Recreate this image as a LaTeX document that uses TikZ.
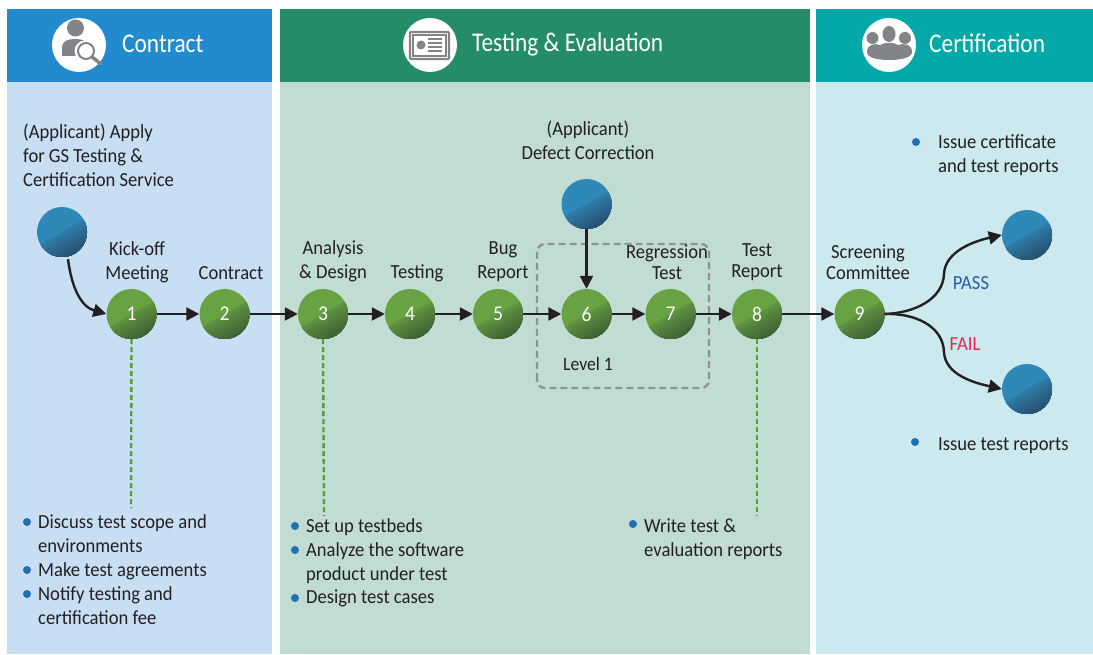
\documentclass[tikz,border=0pt]{standalone}
\usepackage{fontspec}
\setmainfont[FakeStretch=0.93]{Carlito}
\newfontfamily\headfont[FakeStretch=0.865]{Carlito}
\usetikzlibrary{arrows.meta,calc}
\definecolor{hblue}{HTML}{228BCE}
\definecolor{bblue}{HTML}{C8DFF3}
\definecolor{hgreen}{HTML}{258C68}
\definecolor{bgreen}{HTML}{C1DDD3}
\definecolor{hteal}{HTML}{05A8A8}
\definecolor{bteal}{HTML}{CBE9EF}
\definecolor{ink}{HTML}{231F20}
\definecolor{icon}{HTML}{838487}
\definecolor{gtop}{HTML}{67A243}
\definecolor{gmid}{HTML}{5F9440}
\definecolor{gdark}{HTML}{3F5F35}
\definecolor{otop}{HTML}{2E89B8}
\definecolor{omid}{HTML}{2F7DA8}
\definecolor{odark}{HTML}{264F70}
\definecolor{dash}{HTML}{5E9A36}
\definecolor{levelgray}{HTML}{8E9294}
\definecolor{bullet}{HTML}{1F6FB2}
\definecolor{passc}{HTML}{2A5CA8}
\definecolor{failc}{HTML}{E8264F}
\tikzset{
  orb/.style n args={3}{circle,minimum size=50pt,inner sep=0pt,fill=#1,text=white,
    font=\fontsize{21}{24}\selectfont,
    path picture={
      \foreach \i in {0,...,25}{
        \pgfmathtruncatemacro\p{100-\i*4}
        \pgfmathsetmacro\ax{-30.3+0.5*\i}
        \pgfmathsetmacro\ay{-17.5-0.866*\i}
        \pgfmathsetmacro\bx{30.3+0.5*\i}
        \pgfmathsetmacro\by{17.5-0.866*\i}
        \fill[fill={#2!\p!#3}]
          ($(path picture bounding box.center)+(\ax,\ay)$) --
          ($(path picture bounding box.center)+(\bx,\by)$) --
          ($(path picture bounding box.center)+(47,-17)$) --
          ($(path picture bounding box.center)+(-10,-50)$) -- cycle;
      }
    }},
  gorb/.style={orb={gtop}{gmid}{gdark}},
  borb/.style={orb={otop}{omid}{odark}},
  flow/.style={draw=ink,line width=2.4pt,-{Triangle[length=13pt,width=13pt]}},
  guide/.style={draw=dash,line width=2.4pt,dash pattern=on 5pt off 3pt},
  lab/.style={text=ink,font=\fontsize{20}{24}\selectfont,align=center,inner sep=0pt},
  tight/.style={font=\fontsize{20}{21.5}\selectfont},
  txt/.style={text=ink,font=\fontsize{20}{24}\selectfont,align=left,inner sep=0pt,anchor=north west},
  dot/.style={circle,fill=bullet,minimum size=8pt,inner sep=0pt},
  head/.style={text=white,font=\headfont\fontsize{27}{30}\selectfont,inner sep=0pt},
  badge/.style={circle,fill=white,minimum size=54pt,inner sep=0pt},
}
\begin{document}
\begin{tikzpicture}[x=1pt,y=1pt]
\useasboundingbox (0,0) rectangle (1093,654);
% panels
\fill[bblue] (7,0) rectangle (272,572);
\fill[hblue] (7,572) rectangle (272,645);
\fill[bgreen] (280,0) rectangle (810,572);
\fill[hgreen] (280,572) rectangle (810,645);
\fill[bteal] (816,0) rectangle (1093,572);
\fill[hteal] (816,572) rectangle (1093,645);
% headers
\node[badge] (b1) at (79,609) {};
\node[badge] (b2) at (430,609) {};
\node[badge] (b3) at (889,609) {};
\node[head,anchor=west] (h1) at (122,610) {Contract};
\node[head,anchor=west] (h2) at (472,610) {Testing \& Evaluation};
\node[head,anchor=west] (h3) at (929,611) {Certification};
% person icon
\fill[icon] (75.5,626) circle (8.5);
\fill[icon] (62,598) -- (62,606) .. controls (62,613) and (68,615) .. (75,615) .. controls (82,615) and (88,613) .. (91,608) -- (80,598) -- cycle;
\fill[white] (85,603) circle (10.5);
\draw[icon,line width=2pt,fill=white] (86,603) circle (8);
\draw[icon,line width=3.5pt,line cap=round] (92,597) -- (101,590);
% card icon
\draw[icon,line width=2.2pt,rounded corners=1pt] (410,595) rectangle (449,622);
\draw[icon,line width=1.2pt] (413,598) rectangle (446,619);
\fill[icon] (421,609) circle (4.5);
\foreach \yy in {603,607,611,615}{\fill[icon] (428,\yy-1) rectangle (442,\yy+1);}
% people icon
\fill[icon] (889,620) ellipse (6.5 and 8);
\fill[icon] (872.5,616) circle (6);
\fill[icon] (905,616) circle (6);
\fill[icon] (867,602) .. controls (867,610) and (875,611) .. (880,609) .. controls (886,612) and (893,612) .. (898,609) .. controls (904,611) and (912,610) .. (912,602) .. controls (912,596) and (900,594) .. (889,594) .. controls (878,594) and (867,596) .. (867,602) -- cycle;
% level box
\draw[levelgray,line width=2.4pt,dash pattern=on 7pt off 4pt,rounded corners=8pt] (537,266) rectangle (709,410);
% dashed guides
\coordinate (g1) at (131,146);
\coordinate (g3) at (324,138);
\coordinate (g8) at (757,138);
% circles
\node[gorb] (n1) at (131.5,340) {1};
\node[gorb] (n2) at (224.5,340) {2};
\node[gorb] (n3) at (323,340) {3};
\node[gorb] (n4) at (410,340) {4};
\node[gorb] (n5) at (498,340) {5};
\node[gorb] (n6) at (586.5,340) {6};
\node[gorb] (n7) at (670.5,340) {7};
\node[gorb] (n8) at (757,340) {8};
\node[gorb] (n9) at (859.5,340) {9};
\node[borb] (start) at (62,422) {};
\node[borb] (defect) at (586.5,450) {};
\node[borb] (pass) at (1027,419) {};
\node[borb] (fail) at (1027,265) {};
\draw[guide] (n1.south) -- (g1);
\draw[guide] (n3.south) -- (g3);
\draw[guide] (n8.south) -- (g8);
% connectors
\draw[flow] ($(start.south)+(6,-2)$) .. controls (72,364) and (82,347) .. (n1.west);
\draw[flow] (n1) -- (n2);
\draw[flow] (n2) -- (n3);
\draw[flow] (n3) -- (n4);
\draw[flow] (n4) -- (n5);
\draw[flow] (n5) -- (n6);
\draw[flow] (n6) -- (n7);
\draw[flow] (n7) -- (n8);
\draw[flow] (n8) -- (n9);
\draw[flow] (defect) -- (n6);
\draw[flow] (n9.east) .. controls (915,341) and (943,355) .. (944,380) .. controls (945,403) and (975,413) .. (pass.west);
\draw[flow] (n9.east) .. controls (915,341) and (943,328) .. (944,302) .. controls (945,279) and (975,271) .. (fail.west);
% labels
\node[txt] (t0) at (23,530) {(Applicant) Apply\\for GS Testing \&\\Certification Service};
\node[lab] (l1) at (137,392) {Kick-off\\Meeting};
\node[lab] (l2) at (231,381) {Contract};
\node[lab] (l3) at (333,393) {Analysis\\\& Design};
\node[lab] (l4) at (417,381) {Testing};
\node[lab] (l5) at (503,392) {Bug\\Report};
\node[lab] (l6) at (588,514) {(Applicant)\\Defect Correction};
\node[lab,tight] (l7) at (667,392) {Regression\\Test};
\node[lab,tight] (l8) at (757,392) {Test\\Report};
\node[lab,tight] (l9) at (868,392) {Screening\\Committee};
\node[lab,font=\fontsize{19}{22}\selectfont] (lv) at (588,290) {Level 1};
\node[lab,text=passc,font=\fontsize{20}{22}\selectfont] (lp) at (971,371) {PASS};
\node[lab,text=failc,font=\fontsize{20}{22}\selectfont] (lf) at (965,310) {FAIL};
% bullet lists
\node[dot] (d1) at (27,132) {};
\node[txt] at (38,140) {Discuss test scope and\\environments};
\node[dot] (d2) at (27,84) {};
\node[txt] at (38,92) {Make test agreements};
\node[dot] (d3) at (27,60) {};
\node[txt] at (38,68) {Notify testing and\\certification fee};
\node[dot] (d4) at (295,128) {};
\node[txt] at (306,136) {Set up testbeds};
\node[dot] (d5) at (295,104) {};
\node[txt] at (306,112) {Analyze the software\\product under test};
\node[dot] (d6) at (295,56) {};
\node[txt] at (306,64) {Design test cases};
\node[dot] (d7) at (633,130) {};
\node[txt] at (644,135) {Write test \&\\evaluation reports};
\node[dot] (d8) at (916,512) {};
\node[txt] at (938,520) {Issue certificate\\and test reports};
\node[dot] (d9) at (915,212) {};
\node[txt] at (938,217) {Issue test reports};
\end{tikzpicture}
\end{document}
